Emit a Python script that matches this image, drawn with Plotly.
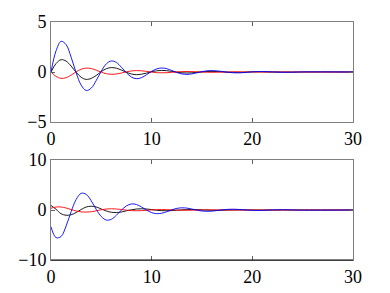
import plotly.graph_objects as go
from plotly.subplots import make_subplots

# time samples
t = [0, 0.5, 1, 1.5, 2, 2.5, 3, 3.5, 4, 4.5, 5, 5.5, 6, 6.5, 7, 7.5, 8, 8.5, 9, 9.5,
     10, 10.5, 11, 11.5, 12, 12.5, 13, 13.5, 14, 14.5, 15, 15.5, 16, 16.5, 17, 17.5,
     18, 18.5, 19, 19.5, 20, 21, 22, 23, 24, 25, 30]

# top panel
top_blue = [0, 2.11, 3.07, 2.74, 1.48, -0.08, -1.32, -1.85, -1.61, -0.84, 0.09, 0.82,
            1.11, 0.95, 0.47, -0.08, -0.51, -0.67, -0.56, -0.27, 0.07, 0.31, 0.40, 0.33,
            0.15, -0.05, -0.19, -0.24, -0.19, -0.08, 0.04, 0.12, 0.14, 0.11, 0.05, -0.02,
            -0.07, -0.09, -0.07, -0.03, 0.02, 0.05, 0.01, -0.03, -0.02, 0.01, 0]
top_black = [0, 0.84, 1.23, 1.09, 0.59, -0.03, -0.53, -0.74, -0.64, -0.34, 0.04, 0.33,
             0.44, 0.38, 0.19, -0.03, -0.20, -0.27, -0.22, -0.11, 0.03, 0.12, 0.16, 0.13,
             0.06, -0.02, -0.08, -0.10, -0.08, -0.03, 0.01, 0.05, 0.06, 0.04, 0.02, -0.01,
             -0.03, -0.03, -0.03, -0.01, 0.01, 0.02, 0, -0.01, -0.01, 0, 0]
top_red = [0, -0.44, -0.64, -0.57, -0.31, 0.02, 0.28, 0.39, 0.34, 0.18, -0.02, -0.17,
           -0.23, -0.20, -0.10, 0.02, 0.11, 0.14, 0.12, 0.06, -0.01, -0.07, -0.08, -0.07,
           -0.03, 0.01, 0.04, 0.05, 0.04, 0.02, -0.01, -0.02, -0.03, -0.02, -0.01, 0,
           0.02, 0.02, 0.01, 0.01, 0, -0.01, 0, 0.01, 0, 0, 0]

# bottom panel
bot_blue = [-3.35, -5.52, -5.30, -3.20, -0.34, 2.11, 3.34, 3.13, 1.83, 0.11, -1.32, -2.01,
            -1.85, -1.04, -0.01, 0.83, 1.21, 1.09, 0.59, -0.02, -0.52, -0.73, -0.64, -0.34,
            0.03, 0.32, 0.44, 0.38, 0.19, -0.03, -0.20, -0.26, -0.22, -0.11, 0.02, 0.12,
            0.16, 0.13, 0.06, -0.02, -0.08, -0.08, 0.01, 0.06, 0.02, -0.03, 0]
bot_black = [0.9, 0.15, -0.75, -1.05, -0.95, -0.5, 0.1, 0.6, 0.75, 0.6, 0.2, -0.2,
             -0.45, -0.5, -0.4, -0.15, 0.05, 0.2, 0.25, 0.2, 0.08, -0.05, -0.13, -0.15,
             -0.12, -0.04, 0.03, 0.08, 0.09, 0.07, 0.02, -0.02, -0.05, -0.05, -0.04, -0.01,
             0.01, 0.03, 0.03, 0.02, 0, -0.01, 0, 0.01, 0, 0, 0]
bot_red = [0.35, 0.6, 0.6, 0.4, 0.1, -0.2, -0.38, -0.42, -0.35, -0.15, 0.05, 0.2,
           0.25, 0.2, 0.1, -0.03, -0.12, -0.15, -0.12, -0.06, 0.02, 0.07, 0.09, 0.07,
           0.03, -0.02, -0.05, -0.05, -0.04, -0.01, 0.01, 0.03, 0.03, 0.02, 0.01, -0.01,
           -0.02, -0.02, -0.01, 0, 0.01, 0, 0, 0, 0, 0, 0]

x_ticks = [0, 10, 20, 30]
top_yticks = [-5, 0, 5]
bot_yticks = [-10, 0, 10]

fig = make_subplots(rows=2, cols=1)

series = [
    (top_black, "#000000", 1), (top_red, "#ff0000", 1), (top_blue, "#0000ff", 1),
    (bot_black, "#000000", 2), (bot_red, "#ff0000", 2), (bot_blue, "#0000ff", 2),
]
for y, c, r in series:
    fig.add_trace(go.Scatter(x=t, y=y, mode="lines", line=dict(color=c, width=0.9, shape="spline"),
                             showlegend=False, hoverinfo="skip"), row=r, col=1)

font = dict(family="Liberation Serif, Times New Roman, serif", size=18, color="#000000")
axis_common = dict(showgrid=False, zeroline=False, showline=True, linecolor="#808080",
                   linewidth=1, mirror="ticks", ticks="inside", ticklen=4, tickcolor="#606060",
                   tickfont=font, automargin=False)

fig.update_xaxes(range=[0, 30], tickvals=x_ticks, **axis_common)
fig.update_yaxes(**axis_common)
fig.update_yaxes(range=[-5, 5], tickvals=top_yticks, row=1, col=1)
fig.update_yaxes(range=[-10, 10], tickvals=bot_yticks, row=2, col=1)

W, H = 390, 293
OFF = 8  # page body margin offset
xd = [(51 - OFF) / W, (353 - OFF) / W]
fig.update_layout(
    width=W, height=H, autosize=False,
    margin=dict(l=0, r=0, t=0, b=0),
    paper_bgcolor="white", plot_bgcolor="white",
    xaxis=dict(domain=xd),
    xaxis2=dict(domain=xd),
    yaxis=dict(domain=[1 - (122 - OFF) / H, 1 - (22 - OFF) / H]),
    yaxis2=dict(domain=[1 - (260 - OFF) / H, 1 - (160 - OFF) / H]),
)
# black bottom axis line of lower panel
fig.add_shape(type="line", xref="x2 domain", yref="y2 domain", x0=0, x1=1, y0=0, y1=0,
              line=dict(color="#000000", width=1))

fig.write_html("out.html")
